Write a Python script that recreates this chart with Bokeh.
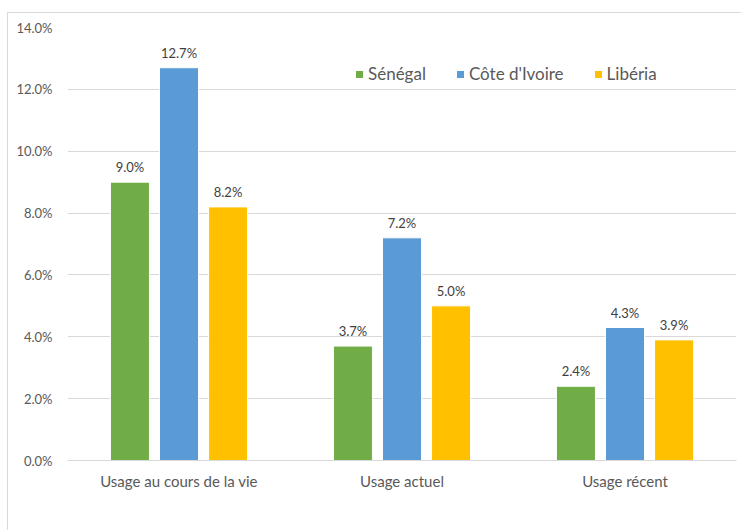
from bokeh.plotting import figure
from bokeh.models import (ColumnDataSource, FactorRange, LabelSet, Legend, LegendItem,
                          PrintfTickFormatter, FixedTicker)
from bokeh.core.properties import value
from bokeh.transform import dodge
from bokeh.embed import file_html
from bokeh.resources import INLINE

categories = ["Usage au cours de la vie", "Usage actuel", "Usage récent"]
countries = ["Sénégal", "Côte d'Ivoire", "Libéria"]
senegal = [9.0, 3.7, 2.4]
cote_divoire = [12.7, 7.2, 4.3]
liberia = [8.2, 5.0, 3.9]
y_ticks = [0, 2, 4, 6, 8, 10, 12, 14]

colors = ["#70ad47", "#5b9bd5", "#ffc000"]
series = [senegal, cote_divoire, liberia]
offsets = [-0.22, 0.0, 0.22]
FONT = "Lato"

# the chart sits in a light frame whose left and top edges are visible
p = figure(x_range=FactorRange(*categories), y_range=(0, 14),
           width=734, height=518, output_backend="svg", toolbar_location=None,
           min_border_left=59, min_border_right=6, min_border_top=14, min_border_bottom=71,
           styles={"margin-left": "7px", "margin-top": "12px",
                   "border-left": "1px solid #d9d9d9", "border-top": "1px solid #d9d9d9"})
p.outline_line_color = None
p.background_fill_color = "white"
p.border_fill_color = "white"

items = []
for name, vals, col, off in zip(countries, series, colors, offsets):
    src = ColumnDataSource(dict(cat=categories, val=vals,
                                txt=[f"{v:.1f}%" for v in vals]))
    r = p.vbar(x=dodge("cat", off, range=p.x_range), top="val", width=0.175,
               source=src, fill_color=col, line_color="white", line_width=1)
    items.append(LegendItem(label=name, renderers=[r]))
    labels = LabelSet(x=dodge("cat", off, range=p.x_range), y="val", text="txt",
                      source=src, y_offset=7, text_align="center",
                      text_baseline="bottom", text_font=value(FONT),
                      text_font_size="13px", text_color="#404040")
    p.add_layout(labels)

legend = Legend(items=items, orientation="horizontal", location=(287, 376),
                glyph_width=10, glyph_height=10, label_standoff=4, spacing=29,
                padding=0, margin=0, border_line_color=None,
                background_fill_alpha=0,
                label_text_font=FONT, label_text_font_size="17px",
                label_text_color="#595959")
p.add_layout(legend)

p.yaxis.ticker = FixedTicker(ticks=y_ticks)
p.yaxis.formatter = PrintfTickFormatter(format="%.1f%%")
p.yaxis.axis_line_color = None
p.yaxis.major_tick_line_color = None
p.yaxis.minor_tick_line_color = None
p.yaxis.major_label_text_font = FONT
p.yaxis.major_label_text_font_size = "13px"
p.yaxis.major_label_text_color = "#595959"
p.yaxis.major_label_standoff = 9

p.xaxis.axis_line_color = "#d9d9d9"
p.xaxis.major_tick_line_color = None
p.xaxis.minor_tick_line_color = None
p.xaxis.major_label_text_font = FONT
p.xaxis.major_label_text_font_size = "15px"
p.xaxis.major_label_text_color = "#595959"
p.xaxis.major_label_standoff = 5

p.xgrid.grid_line_color = None
p.ygrid.grid_line_color = "#d9d9d9"
p.ygrid.ticker = FixedTicker(ticks=y_ticks)
p.x_range.range_padding = 0
p.x_range.group_padding = 0

open("out.html", "w").write(file_html(p, INLINE))
